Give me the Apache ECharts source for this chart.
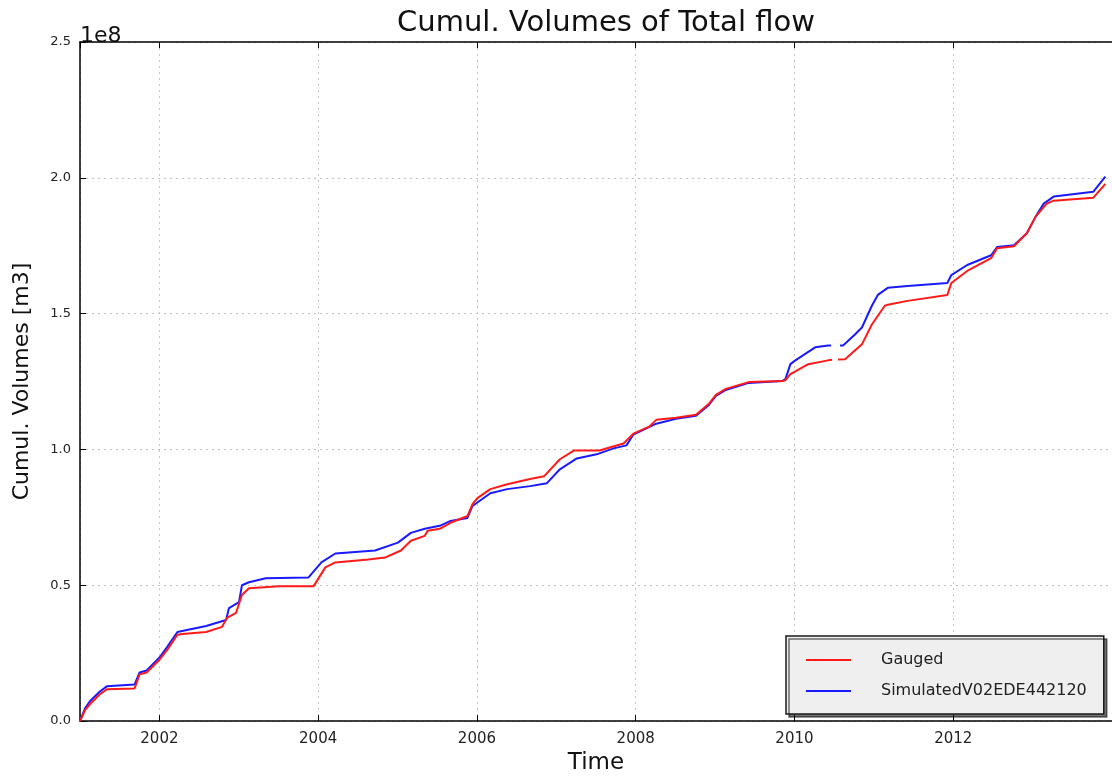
<!DOCTYPE html>
<html>
<head>
<meta charset="utf-8">
<script src="https://cdn.jsdelivr.net/npm/echarts@6/dist/echarts.min.js"></script>
<style>
html,body{margin:0;padding:0;background:#fff;}
#chart{width:1112px;height:780px;}
</style>
</head>
<body>
<div id="chart"></div>
<script>
// Time in decimal years, volumes in units of 1e8 m3
var gaugedYears = [2001.000,2001.063,2001.125,2001.250,2001.338,2001.688,2001.751,2001.839,2002.001,2002.101,2002.227,2002.289,2002.589,2002.790,2002.852,2002.965,2003.040,2003.128,2003.503,2003.941,2004.091,2004.216,2004.630,2004.842,2005.043,2005.168,2005.343,2005.380,2005.531,2005.668,2005.881,2005.944,2006.006,2006.169,2006.382,2006.670,2006.845,2007.045,2007.220,2007.546,2007.671,2007.846,2007.971,2008.171,2008.259,2008.509,2008.760,2008.922,2009.010,2009.135,2009.423,2009.848,2009.886,2009.949,2010.174,2010.424,2010.474,2010.512,2010.549,2010.637,2010.850,2010.975,2011.138,2011.175,2011.425,2011.926,2011.976,2012.176,2012.477,2012.552,2012.765,2012.927,2013.040,2013.178,2013.265,2013.766,2013.916];
var gaugedVals = [0.000,0.040,0.062,0.099,0.117,0.120,0.172,0.179,0.226,0.263,0.318,0.321,0.328,0.347,0.380,0.398,0.464,0.489,0.496,0.496,0.566,0.584,0.595,0.602,0.628,0.664,0.682,0.701,0.708,0.730,0.755,0.799,0.821,0.854,0.872,0.891,0.901,0.964,0.996,0.996,1.007,1.022,1.058,1.084,1.109,1.117,1.128,1.168,1.201,1.223,1.248,1.252,1.255,1.277,1.314,1.328,1.330,null,1.331,1.332,1.387,1.460,1.529,1.533,1.547,1.569,1.613,1.657,1.704,1.741,1.748,1.796,1.858,1.905,1.916,1.927,1.978];

var simYears = [2001.000,2001.063,2001.125,2001.250,2001.338,2001.688,2001.751,2001.839,2002.001,2002.101,2002.227,2002.589,2002.840,2002.877,2003.003,2003.040,2003.128,2003.340,2003.879,2004.041,2004.216,2004.717,2005.005,2005.168,2005.343,2005.531,2005.668,2005.881,2005.944,2006.169,2006.382,2006.670,2006.882,2007.045,2007.258,2007.508,2007.721,2007.884,2007.971,2008.259,2008.509,2008.760,2008.922,2009.010,2009.135,2009.423,2009.848,2009.886,2009.949,2010.011,2010.261,2010.424,2010.462,2010.512,2010.574,2010.612,2010.762,2010.850,2010.975,2011.050,2011.175,2011.425,2011.926,2011.976,2012.176,2012.477,2012.552,2012.765,2012.927,2013.040,2013.140,2013.265,2013.766,2013.916];
var simVals = [0.000,0.047,0.073,0.109,0.128,0.135,0.179,0.186,0.234,0.274,0.328,0.350,0.372,0.416,0.438,0.500,0.511,0.526,0.529,0.584,0.617,0.628,0.657,0.693,0.708,0.719,0.737,0.748,0.792,0.839,0.854,0.865,0.876,0.927,0.967,0.982,1.004,1.015,1.055,1.095,1.113,1.124,1.164,1.197,1.219,1.245,1.252,1.259,1.314,1.328,1.376,1.383,1.383,null,1.383,1.383,1.423,1.449,1.529,1.569,1.595,1.602,1.613,1.642,1.679,1.715,1.745,1.752,1.796,1.858,1.905,1.931,1.949,2.004];

var yTicks = [0.0, 0.5, 1.0, 1.5, 2.0, 2.5];
var seriesNames = ['Gauged', 'SimulatedV02EDE442120'];
var titleText = 'Cumul. Volumes of Total flow';
var xName = 'Time';
var yName = 'Cumul. Volumes [m3]';
var yExponent = '1e8';

function pairs(xs, ys) {
  return xs.map(function (x, i) { return [x, ys[i]]; });
}

var FONT = 'DejaVu Sans';
var chart = echarts.init(document.getElementById('chart'), null, {renderer: 'canvas'});

var axisCommon = {
  type: 'value',
  min: 2001,
  max: 2014,
  minInterval: 2,
  maxInterval: 2,
  splitNumber: 6
};

chart.setOption({
  animation: false,
  backgroundColor: '#ffffff',
  title: {
    text: titleText,
    left: 601,
    textAlign: 'center',
    top: 4,
    textStyle: {fontFamily: FONT, fontSize: 29, fontWeight: 'normal', color: '#111'}
  },
  grid: {left: 80, top: 42, bottom: 53, right: -8, containLabel: false},
  legend: {
    orient: 'vertical',
    left: 786,
    top: 636,
    data: seriesNames,
    icon: 'rect',
    itemWidth: 45,
    itemHeight: 2,
    itemGap: 15,
    padding: [16, 17, 15, 20],
    backgroundColor: '#efefef',
    borderColor: '#1a1a1a',
    borderWidth: 1.5,
    borderRadius: 0,
    shadowColor: 'rgba(0,0,0,0.55)',
    shadowOffsetX: 3,
    shadowOffsetY: 3,
    shadowBlur: 0,
    textStyle: {fontFamily: FONT, fontSize: 16, color: '#222', padding: [0, 0, 0, 25]}
  },
  xAxis: [
    Object.assign({}, axisCommon, {
      position: 'bottom',
      name: xName,
      nameLocation: 'middle',
      nameGap: 30,
      nameTextStyle: {fontFamily: FONT, fontSize: 23, color: '#111'},
      axisLine: {show: true, onZero: false, lineStyle: {color: '#000', width: 1.5}},
      axisTick: {show: true, inside: true, length: 6, lineStyle: {color: '#000', width: 1}},
      axisLabel: {
        show: true, margin: 11, showMinLabel: false, showMaxLabel: false,
        fontFamily: FONT, fontSize: 15, color: '#222',
        formatter: function (v) { return String(Math.round(v)); }
      },
      splitLine: {show: true, lineStyle: {color: '#c4c4c4', type: [2, 4], width: 1}}
    }),
    Object.assign({}, axisCommon, {
      position: 'top',
      axisLine: {show: true, onZero: false, lineStyle: {color: '#000', width: 1.5}},
      axisTick: {show: true, inside: true, length: 6, lineStyle: {color: '#000', width: 1}},
      axisLabel: {show: false},
      splitLine: {show: false}
    })
  ],
  yAxis: {
    type: 'value',
    min: yTicks[0],
    max: yTicks[yTicks.length - 1],
    interval: yTicks[1] - yTicks[0],
    name: yName,
    nameLocation: 'middle',
    nameGap: 47,
    nameTextStyle: {fontFamily: FONT, fontSize: 22, color: '#111'},
    axisLine: {show: true, lineStyle: {color: '#000', width: 1.5}},
    axisTick: {show: true, inside: true, length: 6, lineStyle: {color: '#000', width: 1}},
    axisLabel: {
      margin: 9, fontFamily: FONT, fontSize: 13, color: '#222',
      formatter: function (v) { return v.toFixed(1); }
    },
    splitLine: {show: true, lineStyle: {color: '#c4c4c4', type: [2, 4], width: 1}}
  },
  graphic: [{
    type: 'text',
    left: 80,
    top: 25,
    style: {text: yExponent, fontFamily: FONT, fontSize: 22, fill: '#111'}
  }],
  series: [
    {
      name: seriesNames[0],
      type: 'line',
      xAxisIndex: 0,
      data: pairs(gaugedYears, gaugedVals),
      symbol: 'none',
      showSymbol: false,
      connectNulls: false,
      lineStyle: {color: '#ff1a1a', width: 2},
      itemStyle: {color: '#ff1a1a'},
      z: 3
    },
    {
      name: seriesNames[1],
      type: 'line',
      xAxisIndex: 0,
      data: pairs(simYears, simVals),
      symbol: 'none',
      showSymbol: false,
      connectNulls: false,
      lineStyle: {color: '#1a1aff', width: 2},
      itemStyle: {color: '#1a1aff'},
      z: 2
    }
  ]
});
</script>
</body>
</html>
